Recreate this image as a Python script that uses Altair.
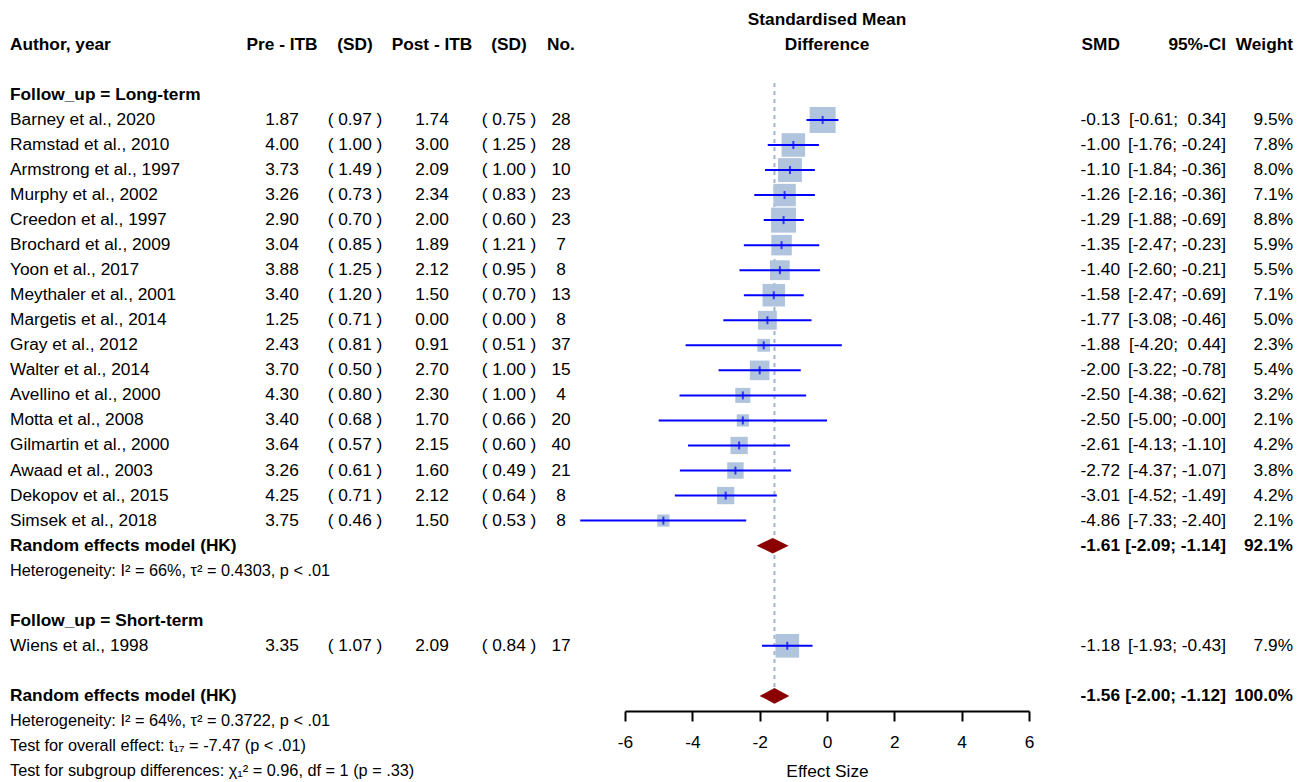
import altair as alt
import pandas as pd

# ---------------- data ----------------
studies = ["Barney et al., 2020", "Ramstad et al., 2010", "Armstrong et al., 1997", "Murphy et al., 2002",
           "Creedon et al., 1997", "Brochard et al., 2009", "Yoon et al., 2017", "Meythaler et al., 2001",
           "Margetis et al., 2014", "Gray et al., 2012", "Walter et al., 2014", "Avellino et al., 2000",
           "Motta et al., 2008", "Gilmartin et al., 2000", "Awaad et al., 2003", "Dekopov et al., 2015",
           "Simsek et al., 2018", "Wiens et al., 1998"]
follow_up = ["Long-term"] * 17 + ["Short-term"]
pre_mean = [1.87, 4.00, 3.73, 3.26, 2.90, 3.04, 3.88, 3.40, 1.25, 2.43, 3.70, 4.30, 3.40, 3.64, 3.26, 4.25, 3.75, 3.35]
pre_sd = [0.97, 1.00, 1.49, 0.73, 0.70, 0.85, 1.25, 1.20, 0.71, 0.81, 0.50, 0.80, 0.68, 0.57, 0.61, 0.71, 0.46, 1.07]
post_mean = [1.74, 3.00, 2.09, 2.34, 2.00, 1.89, 2.12, 1.50, 0.00, 0.91, 2.70, 2.30, 1.70, 2.15, 1.60, 2.12, 1.50, 2.09]
post_sd = [0.75, 1.25, 1.00, 0.83, 0.60, 1.21, 0.95, 0.70, 0.00, 0.51, 1.00, 1.00, 0.66, 0.60, 0.49, 0.64, 0.53, 0.84]
n_obs = [28, 28, 10, 23, 23, 7, 8, 13, 8, 37, 15, 4, 20, 40, 21, 8, 8, 17]
smd = [-0.13, -1.00, -1.10, -1.26, -1.29, -1.35, -1.40, -1.58, -1.77, -1.88, -2.00, -2.50, -2.50, -2.61, -2.72,
       -3.01, -4.86, -1.18]
ci_low = [-0.61, -1.76, -1.84, -2.16, -1.88, -2.47, -2.60, -2.47, -3.08, -4.20, -3.22, -4.38, -5.00, -4.13, -4.37,
          -4.52, -7.33, -1.93]
ci_high = [0.34, -0.24, -0.36, -0.36, -0.69, -0.23, -0.21, -0.69, -0.46, 0.44, -0.78, -0.62, -0.00, -1.10, -1.07,
           -1.49, -2.40, -0.43]
weight = [9.5, 7.8, 8.0, 7.1, 8.8, 5.9, 5.5, 7.1, 5.0, 2.3, 5.4, 3.2, 2.1, 4.2, 3.8, 4.2, 2.1, 7.9]

pooled_label = "Random effects model (HK)"
pooled_smd = [-1.61, -1.56]      # Long-term subgroup, overall
pooled_low = [-2.09, -2.00]
pooled_high = [-1.14, -1.12]
pooled_weight = [92.1, 100.0]

het_long = "Heterogeneity: I\u00b2 = 66%, \u03c4\u00b2 = 0.4303, p < .01"
het_all = "Heterogeneity: I\u00b2 = 64%, \u03c4\u00b2 = 0.3722, p < .01"
test_overall = "Test for overall effect: t\u2081\u2087 = -7.47 (p < .01)"
test_sub = "Test for subgroup differences: \u03c7\u2081\u00b2 = 0.96, df = 1 (p = .33)"

col_headers = ["Pre - ITB", "(SD)", "Post - ITB", "(SD)", "No."]
right_headers = ["SMD", "95%-CI", "Weight"]
x_ticks = [-6, -4, -2, 0, 2, 4, 6]

# ---------------- layout helpers ----------------
FONT = "Liberation Sans"
FS = 17.3
FS_STAT = 16.3
ROW_PX = 25.04
TOP_PX = 11.8
H = 703
Y_DOMAIN = [-TOP_PX / ROW_PX, (H - TOP_PX) / ROW_PX]
YS = alt.Scale(domain=Y_DOMAIN, reverse=True, nice=False, zero=False)
XS = alt.Scale(domain=[-6, 6], range=[617, 1021], nice=False, zero=False)
XAXIS = alt.Axis(values=x_ticks, grid=False, domainColor="black", domainWidth=2, tickColor="black",
                 tickWidth=2, tickSize=10, labelFontSize=FS, labelFont=FONT, labelColor="black",
                 labelPadding=12, labelFlush=False, labelExpr="'' + datum.value",
                 title="Effect Size", titleFont=FONT, titleFontSize=FS,
                 titleFontWeight="normal", titleColor="black", titlePadding=12)


def X(field):
    return alt.X(field, type="quantitative", scale=XS, axis=XAXIS)


def Y(field):
    return alt.Y(field, type="quantitative", scale=YS, axis=None)


def fmt_ci(v):
    s = f"{v:.2f}"
    return s if s.startswith("-") else "\u00a0" + s


# rows
rows = []
group_rows = {}
pooled_rows = []
r = 3
for g in ["Long-term", "Short-term"]:
    group_rows[g] = r
    for i, f in enumerate(follow_up):
        if f == g:
            r += 1
            rows.append(r)
    if g == "Long-term":
        r += 1
        pooled_rows.append(r)
        het_long_row = r + 1
        r += 3
r += 2
pooled_rows.append(r)
stat_rows = [r + 1, r + 2, r + 3]

sd = pd.DataFrame({
    "study": studies, "row": rows, "smd": smd, "lo": ci_low, "hi": ci_high, "w": weight,
    "pre": [f"{v:.2f}" for v in pre_mean],
    "pre_sd": [f"( {v:.2f} )" for v in pre_sd],
    "post": [f"{v:.2f}" for v in post_mean],
    "post_sd": [f"( {v:.2f} )" for v in post_sd],
    "n": [str(v) for v in n_obs],
    "smd_s": [f"{v:.2f}" for v in smd],
    "ci_s": [f"[{fmt_ci(a)}; {fmt_ci(b)}]" for a, b in zip(ci_low, ci_high)],
    "w_s": [f"{v:.1f}%" for v in weight],
})

pdf = pd.DataFrame({
    "row": pooled_rows, "smd": pooled_smd, "lo": pooled_low, "hi": pooled_high,
    "smd_s": [f"{v:.2f}" for v in pooled_smd],
    "ci_s": [f"[{fmt_ci(a)}; {fmt_ci(b)}]" for a, b in zip(pooled_low, pooled_high)],
    "w_s": [f"{v:.1f}%" for v in pooled_weight],
})

DH = 0.31
dia = []
for k, (rr, m, a, b) in enumerate(zip(pooled_rows, pooled_smd, pooled_low, pooled_high)):
    dia += [{"g": k, "x": a, "y0": rr, "y1": rr},
            {"g": k, "x": m, "y0": rr - DH, "y1": rr + DH},
            {"g": k, "x": b, "y0": rr, "y1": rr}]
dia = pd.DataFrame(dia)

left_bold = pd.DataFrame({
    "row": [1, group_rows["Long-term"], pooled_rows[0], group_rows["Short-term"], pooled_rows[1]],
    "label": ["Author, year", "Follow_up = Long-term", pooled_label, "Follow_up = Short-term", pooled_label],
})
left_stat = pd.DataFrame({
    "row": [het_long_row] + stat_rows,
    "label": [het_long, het_all, test_overall, test_sub],
})
ref = pd.DataFrame({"x": [pooled_smd[1]], "y0": [2.52], "y1": [27.37]})
top_title = pd.DataFrame({"x": [0, 0], "row": [0, 1], "label": ["Standardised Mean", "Difference"]})


def txt(df, field, x, align="left", bold=False, size=FS):
    return alt.Chart(df).mark_text(align=align, baseline="middle", font=FONT, fontSize=size,
                                   fontWeight="bold" if bold else "normal", color="black").encode(
        x=alt.value(x), y=Y("row"), text=alt.Text(field))


hdr = pd.DataFrame({"row": [1]})
col_x = [274, 347, 424, 501, 553]
right_x = [1112, 1218, 1285]

layers = []
layers.append(alt.Chart(ref).mark_rule(color="#9FB4D8", strokeWidth=2, strokeDash=[4, 4]).encode(
    x=X("x"), y=Y("y0"), y2="y1"))
layers.append(alt.Chart(sd).mark_square(color="#B0C4DE", opacity=1).encode(
    x=X("smd"), y=Y("row"),
    size=alt.Size("w", type="quantitative", scale=alt.Scale(domain=[0, 9.5], range=[0, 676]), legend=None)))
layers.append(alt.Chart(sd).mark_rule(color="#0000FF", strokeWidth=2).encode(
    x=X("lo"), x2="hi", y=Y("row")))
layers.append(alt.Chart(sd).mark_tick(color="#0000FF", thickness=2, size=8, orient="vertical").encode(
    x=X("smd"), y=Y("row")))
layers.append(alt.Chart(dia).mark_area(color="#8B0000", orient="vertical", opacity=1).encode(
    x=X("x"), y=Y("y0"), y2="y1", detail="g:N"))

# titles above forest
layers.append(alt.Chart(top_title).mark_text(align="center", baseline="middle", font=FONT, fontSize=FS,
                                             fontWeight="bold", color="black").encode(
    x=X("x"), y=Y("row"), text="label"))

# left texts
layers.append(txt(left_bold, "label", 2, bold=True))
layers.append(txt(sd, "study", 2))
layers.append(txt(left_stat, "label", 2, size=FS_STAT))
for h, cx in zip(col_headers, col_x):
    layers.append(txt(hdr.assign(label=h), "label", cx, align="center", bold=True))
for f, cx in zip(["pre", "pre_sd", "post", "post_sd", "n"], col_x):
    layers.append(txt(sd, f, cx, align="center"))

# right texts
for h, cx in zip(right_headers, right_x):
    layers.append(txt(hdr.assign(label=h), "label", cx, align="right", bold=True))
for f, cx in zip(["smd_s", "ci_s", "w_s"], right_x):
    layers.append(txt(sd, f, cx, align="right"))
    layers.append(txt(pdf, f, cx, align="right", bold=True))

chart = alt.layer(*layers).properties(width=1292, height=H, padding=0).configure_view(stroke=None)
chart.save("out.html", embed_options={"renderer": "svg", "actions": False})
